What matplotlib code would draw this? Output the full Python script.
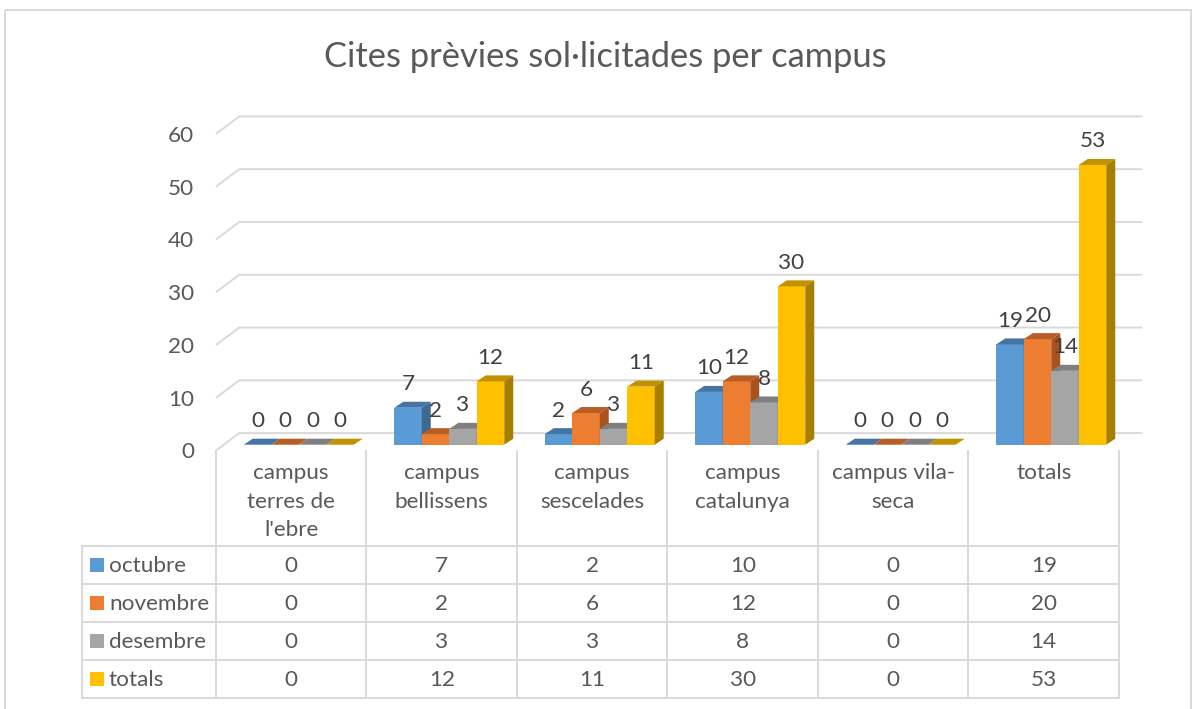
import matplotlib
matplotlib.use("Agg")
import matplotlib.pyplot as plt
from matplotlib.patches import Polygon, Rectangle
import numpy as np

# ---------------- data ----------------
categories = ["campus\nterres de\nl'ebre", "campus\nbellissens", "campus\nsescelades",
              "campus\ncatalunya", "campus vila-\nseca", "totals"]
series_names = ["octubre", "novembre", "desembre", "totals"]
octubre = [0, 7, 2, 10, 0, 19]
novembre = [0, 2, 6, 12, 0, 20]
desembre = [0, 3, 3, 8, 0, 14]
totals = [0, 12, 11, 30, 0, 53]
y_ticks = [0, 10, 20, 30, 40, 50, 60]
title = "Cites prèvies sol·licitades per campus"

series = [octubre, novembre, desembre, totals]
colors = ["#5B9BD5", "#ED7D31", "#A5A5A5", "#FFC000"]
top_colors = ["#4674A3", "#B85E24", "#7F7F7F", "#C29200"]
side_colors = ["#3D6890", "#A8531D", "#767676", "#A67E00"]

plt.rcParams['font.family'] = ['Lato', 'DejaVu Sans']
TXT = "#595959"
LBL = "#404040"
GRID = "#D9D9D9"
FS = 16.2

W, H = 1195, 709
fig = plt.figure(figsize=(W / 100, H / 100), dpi=100)
fig.patch.set_facecolor("white")

# background overlay in pixel coordinates
bg = fig.add_axes([0, 0, 1, 1])
bg.set_xlim(0, W)
bg.set_ylim(H, 0)
bg.axis("off")
bg.set_zorder(0)

# ---------------- layout ----------------
PX_L, PX_R = 216.0, 1119.0
Y0 = 450.5
UNIT = 5.278
YMAX = 60
ncat = len(categories)
cx = (PX_R - PX_L) / ncat          # px per category

ax = fig.add_axes([PX_L / W, 1 - Y0 / H, (PX_R - PX_L) / W, YMAX * UNIT / H])
ax.set_zorder(2)
ax.patch.set_alpha(0)
ax.set_xlim(-0.5, ncat - 0.5)
ax.set_ylim(0, YMAX)
for s in ax.spines.values():
    s.set_visible(False)
ax.set_xticks([])
ax.set_yticks(y_ticks)
ax.set_yticklabels([str(t) for t in y_ticks])
ax.tick_params(axis="y", length=0, pad=22 * 0.72, labelsize=FS, labelcolor=TXT)

# wall depth offsets (data units)
wdx = 23.3 / cx
wdy = 17.4 / UNIT
for t in y_ticks:
    ax.plot([-0.5, -0.5 + wdx, ncat - 0.5 + wdx], [t, t + wdy, t + wdy],
            color=GRID, lw=1.4, clip_on=False, zorder=1, solid_capstyle="butt")

# bars
w = 27.5 / cx
sx = 7.5 / cx
b0 = 5.8 / UNIT
ddx = 9.0 / cx
ddy = 6.0 / UNIT
xs_base = np.arange(ncat)
for j, vals in enumerate(series):
    vals = np.asarray(vals, dtype=float)
    xs = xs_base + (j - 1.5) * w + sx
    z = 3 + j
    ax.bar(xs, vals, width=w, bottom=b0, color=colors[j], linewidth=0, zorder=z)
    for x, v in zip(xs, vals):
        top = b0 + v
        ax.add_patch(Polygon([(x - w / 2, top), (x + w / 2, top),
                              (x + w / 2 + ddx, top + ddy), (x - w / 2 + ddx, top + ddy)],
                             closed=True, facecolor=top_colors[j], edgecolor="none",
                             zorder=z, clip_on=False))
        if v > 0:
            ax.add_patch(Polygon([(x + w / 2, b0), (x + w / 2 + ddx, b0 + ddy),
                                  (x + w / 2 + ddx, top + ddy), (x + w / 2, top)],
                                 closed=True, facecolor=side_colors[j], edgecolor="none",
                                 zorder=z, clip_on=False))
    for x, v in zip(xs, vals):
        ax.annotate(f"{int(v)}", (x, b0 + v), xytext=(0, 17.5 * 0.72),
                    textcoords="offset points", ha="center", va="baseline",
                    fontsize=FS, color=LBL, zorder=20, annotation_clip=False)

# ---------------- data table (pixel layout) ----------------
TL = 81.7
col_edges = [PX_L + k * cx for k in range(ncat + 1)]
row_lines = [546, 584, 622, 660, 698]
LW = 1.4
for yl in row_lines:
    bg.plot([TL, PX_R], [yl, yl], color=GRID, lw=LW, solid_capstyle="butt")
bg.plot([TL, TL], [row_lines[0], row_lines[-1]], color=GRID, lw=LW)
for xe in col_edges:
    bg.plot([xe, xe], [Y0, row_lines[-1]], color=GRID, lw=LW)

for k, cat in enumerate(categories):
    xc = PX_L + (k + 0.5) * cx
    for li, line in enumerate(cat.split("\n")):
        bg.text(xc, 479 + li * 28.7, line, ha="center", va="baseline",
                fontsize=FS, color=TXT)

for r, (name, vals) in enumerate(zip(series_names, series)):
    yc = (row_lines[r] + row_lines[r + 1]) / 2
    bg.add_patch(Rectangle((90, yc - 7), 14, 14, facecolor=colors[r], edgecolor="none"))
    bg.text(109, yc + 7.5, name, ha="left", va="baseline", fontsize=FS, color=TXT)
    for k, v in enumerate(vals):
        xc = PX_L + (k + 0.5) * cx
        bg.text(xc, yc + 7.5, f"{v}", ha="center", va="baseline", fontsize=FS, color=TXT)

# chart border and title
bg.add_patch(Rectangle((5, 10), 1186, 720, facecolor="none", edgecolor=GRID, lw=1.4))
bg.text(605, 67, title, ha="center", va="baseline", fontsize=24.8, color=TXT)

fig.savefig("out.png", dpi=100)
